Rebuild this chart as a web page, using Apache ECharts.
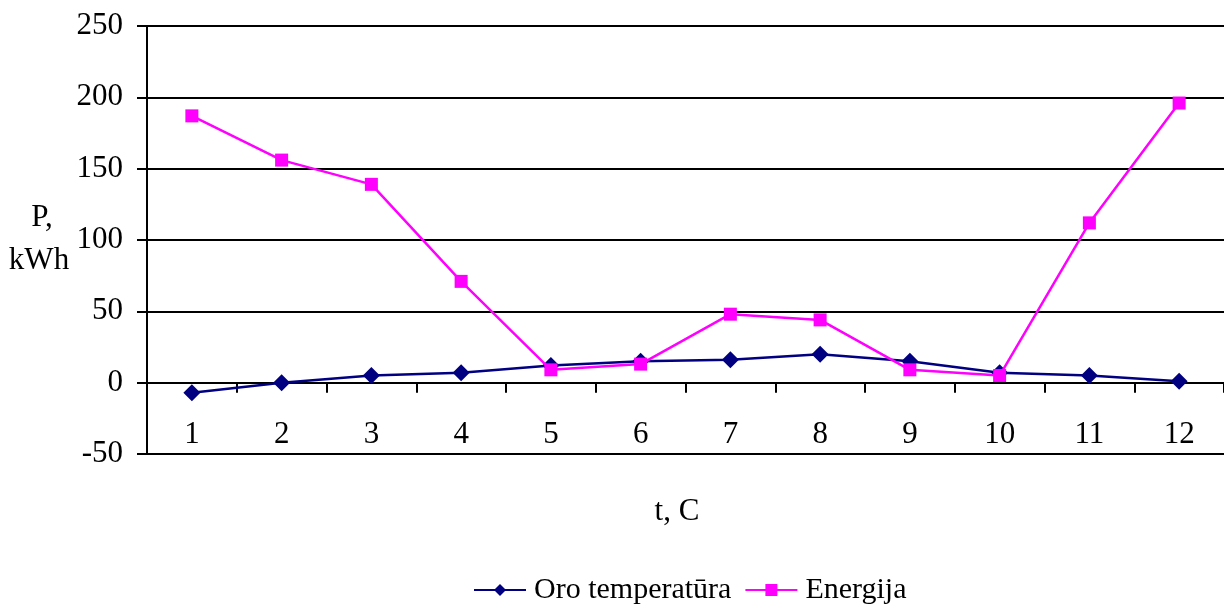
<!DOCTYPE html>
<html>
<head>
<meta charset="utf-8">
<script src="https://cdn.jsdelivr.net/npm/echarts@6/dist/echarts.min.js"></script>
<style>
  html, body { margin: 0; padding: 0; background: #fff; }
  #chart { width: 1224px; height: 604px; }
</style>
</head>
<body>
<div id="chart"></div>
<script>
// Monthly outdoor temperature and energy use
const months = ['1', '2', '3', '4', '5', '6', '7', '8', '9', '10', '11', '12'];
const temperature = [-7, 0, 5, 7, 12, 15, 16, 20, 15, 7, 5, 1];
const energy = [187, 156, 139, 71, 9, 13, 48, 44, 9, 5, 112, 196];
const yTicks = { min: -50, max: 250, step: 50 };

const FONT = '"Liberation Serif", "Times New Roman", serif';
const chart = echarts.init(document.getElementById('chart'));

chart.setOption({
  animation: false,
  backgroundColor: '#ffffff',
  textStyle: { fontFamily: FONT, color: '#000' },
  grid: { left: 147, top: 26, width: 1080, height: 428, containLabel: false },
  legend: {
    top: 570,
    left: 468,
    itemWidth: 52,
    itemHeight: 15,
    itemGap: 13,
    textStyle: { fontFamily: FONT, fontSize: 30, color: '#000', padding: [0, 0, 0, 3] },
    data: ['Oro temperatūra', 'Energija']
  },
  xAxis: {
    type: 'category',
    data: months,
    boundaryGap: true,
    axisLine: { onZero: true, lineStyle: { color: '#000', width: 2 } },
    axisTick: { show: true, interval: 0, length: 10, lineStyle: { color: '#000', width: 2 } },
    axisLabel: { fontFamily: FONT, fontSize: 31, color: '#000', margin: -35, interval: 0 },
    splitLine: { show: false }
  },
  yAxis: {
    type: 'value',
    min: yTicks.min,
    max: yTicks.max,
    interval: yTicks.step,
    axisLine: { show: true, onZero: false, lineStyle: { color: '#000', width: 2 } },
    axisTick: { show: true, length: 10, lineStyle: { color: '#000', width: 2 } },
    axisLabel: { fontFamily: FONT, fontSize: 31, color: '#000', margin: 24 },
    splitLine: { show: true, lineStyle: { color: '#000', width: 2 } }
  },
  graphic: [
    {
      type: 'text', x: 42, y: 218,
      style: { text: 'P,', font: '31px ' + FONT, fill: '#000', align: 'center', verticalAlign: 'middle' }
    },
    {
      type: 'text', x: 39, y: 261,
      style: { text: 'kWh', font: '31px ' + FONT, fill: '#000', align: 'center', verticalAlign: 'middle' }
    },
    {
      type: 'text', x: 677, y: 512,
      style: { text: 't, C', font: '31px ' + FONT, fill: '#000', align: 'center', verticalAlign: 'middle' }
    }
  ],
  series: [
    {
      name: 'Oro temperatūra',
      type: 'line',
      data: temperature,
      symbol: 'diamond',
      symbolSize: 17,
      itemStyle: { color: '#000080' },
      lineStyle: { color: '#000080', width: 2.5 },
      z: 3
    },
    {
      name: 'Energija',
      type: 'line',
      data: energy,
      symbol: 'rect',
      symbolSize: 13,
      itemStyle: { color: '#ff00ff' },
      lineStyle: { color: '#ff00ff', width: 2.5 },
      z: 4
    }
  ]
});
</script>
</body>
</html>
